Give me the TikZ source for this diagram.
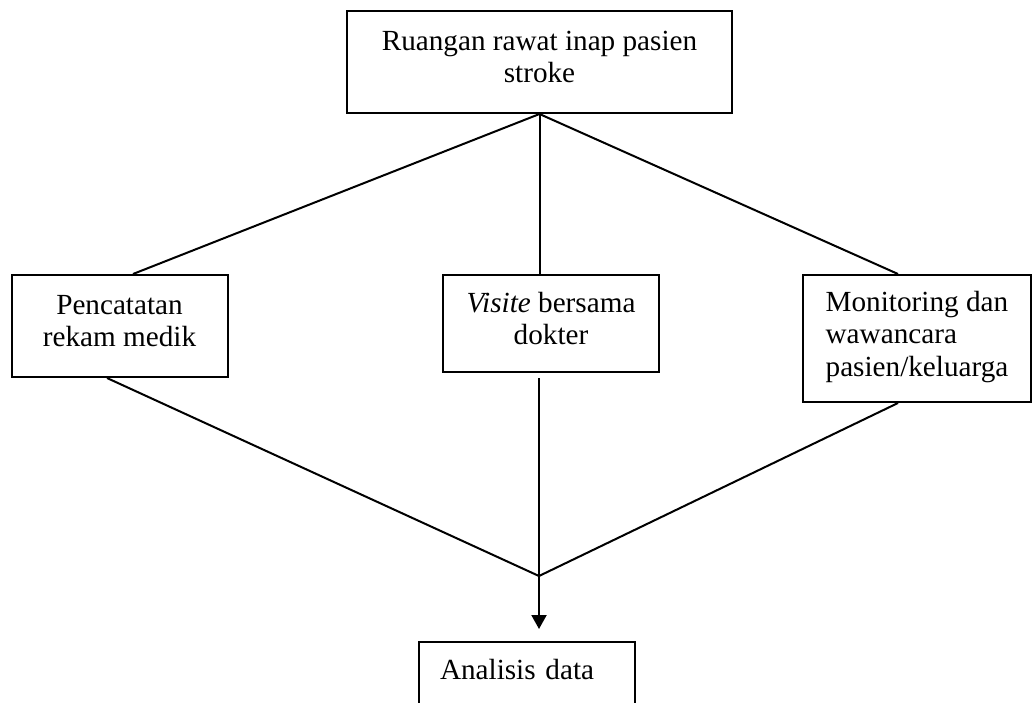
\documentclass[tikz,border=0pt]{standalone}
\usepackage{fontspec}
\setmainfont{Liberation Serif}
\usepackage{tikz}
\usetikzlibrary{arrows.meta, positioning, calc}
\tikzset{
    blk/.style={draw, line width=1pt, align=center, font=\fontsize{14.6}{16.3}\selectfont,
                minimum width=108pt, minimum height=51pt, inner sep=2pt,
                execute at end node={\rule[-5pt]{0pt}{0pt}}},
    blkleft/.style={blk, align=left},
    ln/.style={line width=1pt},
    arr/.style={ln, -{Triangle[length=7pt, width=7.5pt]}}
}

\begin{document}
\begin{tikzpicture}[x=0.5pt, y=-0.5pt]
        \useasboundingbox (0,0) rectangle (1032,702);
        \clip (0,0) rectangle (1032,702);
        % boxes
        \node[blk, minimum width=192.5pt] (ruang) at (539.5,62) {Ruangan rawat inap pasien\\stroke};
        \node[blk] (catat) at (119.5,326) {Pencatatan\\rekam medik};
        \node[blk, minimum height=48.5pt] (visite) at (551,323.5) {\textit{Visite} bersama\\dokter};
        \node[blkleft, minimum width=114pt, minimum height=63.5pt] (monitor) at (917,338.5) {Monitoring dan\\wawancara\\pasien/keluarga};
        \node[blk, anchor=north, align=left, text width=87pt, inner xsep=10.5pt, inner ysep=8.5pt,
              text height=10pt, text depth=45pt, minimum height=0pt] (analisis) at (527,641) {Analisis data};
        \coordinate (temu) at (539,576);
        % branches from the ward
        \draw[ln] (ruang.south) -- ([xshift=6.75pt]catat.north);
        \draw[ln] (ruang.south) -- (ruang.south |- visite.north);
        \draw[ln] (ruang.south) -- ([xshift=-9.5pt]monitor.north);
        % joining into the analysis
        \draw[ln] ([xshift=-6.25pt]catat.south) -- (temu);
        \draw[ln, shorten <=2.5pt] (temu |- visite.south) -- (temu);
        \draw[ln] ([xshift=-9.5pt]monitor.south) -- (temu);
        \draw[arr, shorten >=6pt] (temu) -- (temu |- analisis.north);
    \end{tikzpicture}
\end{document}
